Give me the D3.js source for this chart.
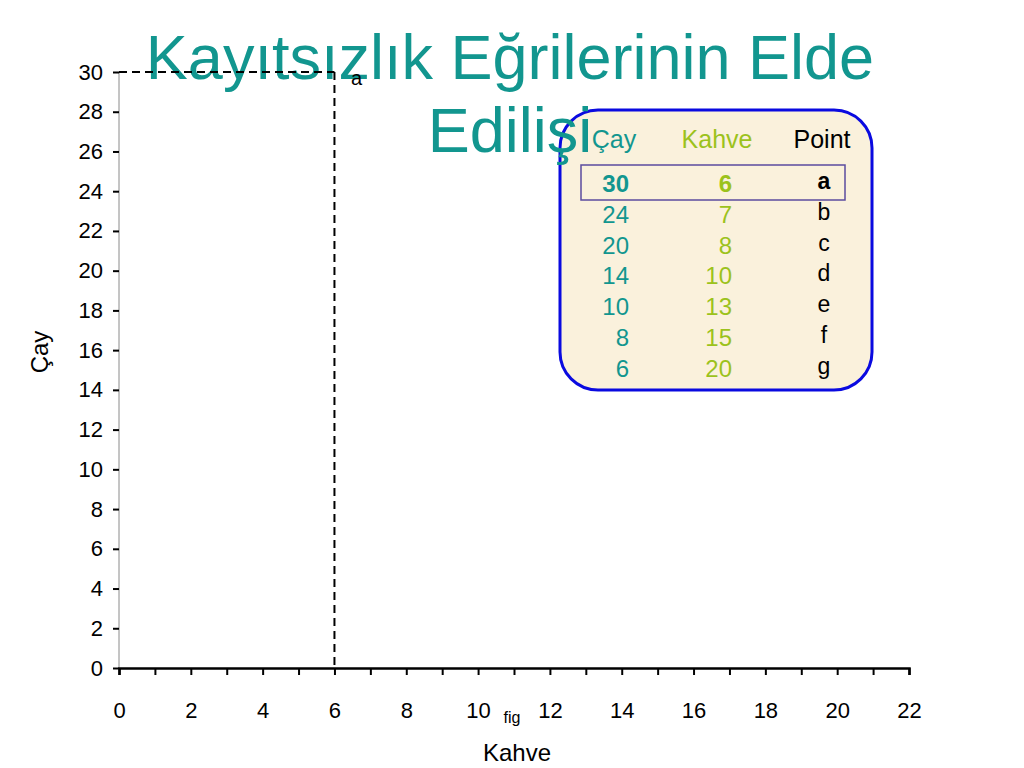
<!DOCTYPE html>
<html>
<head>
<meta charset="utf-8">
<script src="https://cdn.jsdelivr.net/npm/d3@7"></script>
<style>
html,body{margin:0;padding:0;background:#fff;}
svg{display:block;font-family:"Liberation Sans",Arial,sans-serif;}
</style>
</head>
<body>
<script>
// ---- data ----
const cay = [30, 24, 20, 14, 10, 8, 6];
const kahve = [6, 7, 8, 10, 13, 15, 20];
const pointNames = ["a", "b", "c", "d", "e", "f", "g"];
const shownPoints = ["a"];
const xTicks = [0,1,2,3,4,5,6,7,8,9,10,11,12,13,14,15,16,17,18,19,20,21,22];
const yTicks = [0,2,4,6,8,10,12,14,16,18,20,22,24,26,28,30];
const titleLines = ["Kayıtsızlık Eğrilerinin Elde", "Edilişi"];
const tableHeaders = ["Çay", "Kahve", "Point"];

const W = 1024, H = 768;
const teal = "#12968f", green = "#9cc21c";
const FF = "Liberation Sans, Arial, sans-serif";

const svg = d3.select("body").append("svg").attr("width", W).attr("height", H);

const x = d3.scaleLinear().domain([0, 22]).range([119, 909]);
const y = d3.scaleLinear().domain([0, 30]).range([668, 72]);

// ---- table box ----
const box = svg.append("g");
box.append("rect").attr("x", 560).attr("y", 110).attr("width", 312).attr("height", 280)
  .attr("rx", 38).attr("ry", 38).attr("fill", "#faf1dc");

// ---- title ----
svg.append("g").selectAll("text").data(titleLines).join("text")
  .attr("x", 510).attr("y", (d, i) => 79 + i * 73)
  .attr("text-anchor", "middle").attr("font-size", 63).attr("fill", teal)
  .text(d => d);

box.append("rect").attr("x", 560).attr("y", 110).attr("width", 312).attr("height", 280)
  .attr("rx", 38).attr("ry", 38).attr("fill", "none").attr("stroke", "#0a0ae0").attr("stroke-width", 3);

// headers
const colX = [614, 717, 822];
const colColor = [teal, green, "#000"];
box.selectAll("text.h").data(tableHeaders).join("text").attr("class", "h")
  .attr("x", (d, i) => colX[i]).attr("y", 148).attr("text-anchor", "middle")
  .attr("font-size", 25).attr("fill", (d, i) => colColor[i]).text(d => d);

const rowY = i => 192 + i * 30.8;
box.append("rect").attr("x", 581).attr("y", 165).attr("width", 264).attr("height", 35)
  .attr("fill", "none").attr("stroke", "#5b4b9e").attr("stroke-width", 1.5);

box.selectAll("text.c").data(cay).join("text").attr("class", "c")
  .attr("x", 629).attr("y", (d, i) => rowY(i)).attr("text-anchor", "end")
  .attr("font-size", 24).attr("fill", teal).attr("font-weight", (d, i) => i === 0 ? "bold" : "normal")
  .text(d => d);
box.selectAll("text.k").data(kahve).join("text").attr("class", "k")
  .attr("x", 732).attr("y", (d, i) => rowY(i)).attr("text-anchor", "end")
  .attr("font-size", 24).attr("fill", green).attr("font-weight", (d, i) => i === 0 ? "bold" : "normal")
  .text(d => d);
box.selectAll("text.p").data(pointNames).join("text").attr("class", "p")
  .attr("x", 824).attr("y", (d, i) => rowY(i) - 3).attr("text-anchor", "middle")
  .attr("font-size", 23).attr("fill", "#000").attr("font-weight", (d, i) => i === 0 ? "bold" : "normal")
  .text(d => d);

// ---- axes ----
svg.append("line").attr("x1", x(0)).attr("x2", x(0)).attr("y1", y(30)).attr("y2", y(0))
  .attr("stroke", "#8a8a8a").attr("stroke-width", 1);

const yAxis = svg.append("g").attr("transform", `translate(${x(0)},0)`)
  .call(d3.axisLeft(y).tickValues(yTicks).tickSize(6).tickPadding(10));
yAxis.attr("font-size", null).attr("font-family", null);
yAxis.select(".domain").remove();
yAxis.selectAll(".tick line").attr("stroke", "#000").attr("stroke-width", 2);
yAxis.selectAll(".tick text").attr("font-size", 22).attr("fill", "#000").attr("font-family", FF);

const xAxis = svg.append("g").attr("transform", `translate(0,${y(0)})`)
  .call(d3.axisBottom(x).tickValues(xTicks).tickSize(7).tickPadding(27)
    .tickFormat(d => d % 2 === 0 ? d : ""));
xAxis.attr("font-size", null).attr("font-family", null);
xAxis.select(".domain").attr("stroke", "#000").attr("stroke-width", 2.5);
xAxis.selectAll(".tick line").attr("stroke", "#000").attr("stroke-width", 2);
xAxis.selectAll(".tick text").attr("font-size", 22).attr("fill", "#000").attr("font-family", FF);

// axis labels
svg.append("text").attr("x", 517).attr("y", 761).attr("text-anchor", "middle")
  .attr("font-size", 24).text("Kahve");
svg.append("text").attr("transform", "translate(48,352) rotate(-90)").attr("text-anchor", "middle")
  .attr("font-size", 24).text("Çay");
svg.append("text").attr("x", 512).attr("y", 723).attr("text-anchor", "middle")
  .attr("font-size", 16).text("fig");

// ---- shown point with dashed guide lines ----
const pts = pointNames.map((n, i) => ({ name: n, cay: cay[i], kahve: kahve[i] }))
  .filter(p => shownPoints.includes(p.name));
const g = svg.append("g");
pts.forEach(p => {
  g.append("line").attr("x1", x(0)).attr("x2", x(p.kahve)).attr("y1", y(p.cay)).attr("y2", y(p.cay))
    .attr("stroke", "#000").attr("stroke-width", 2).attr("stroke-dasharray", "8,5");
  g.append("line").attr("x1", x(p.kahve)).attr("x2", x(p.kahve)).attr("y1", y(p.cay)).attr("y2", y(0))
    .attr("stroke", "#000").attr("stroke-width", 2).attr("stroke-dasharray", "8,5");
  g.append("text").attr("x", x(p.kahve) + 22).attr("y", y(p.cay) + 13).attr("text-anchor", "middle")
    .attr("font-size", 20).text(p.name);
});
</script>
</body>
</html>
